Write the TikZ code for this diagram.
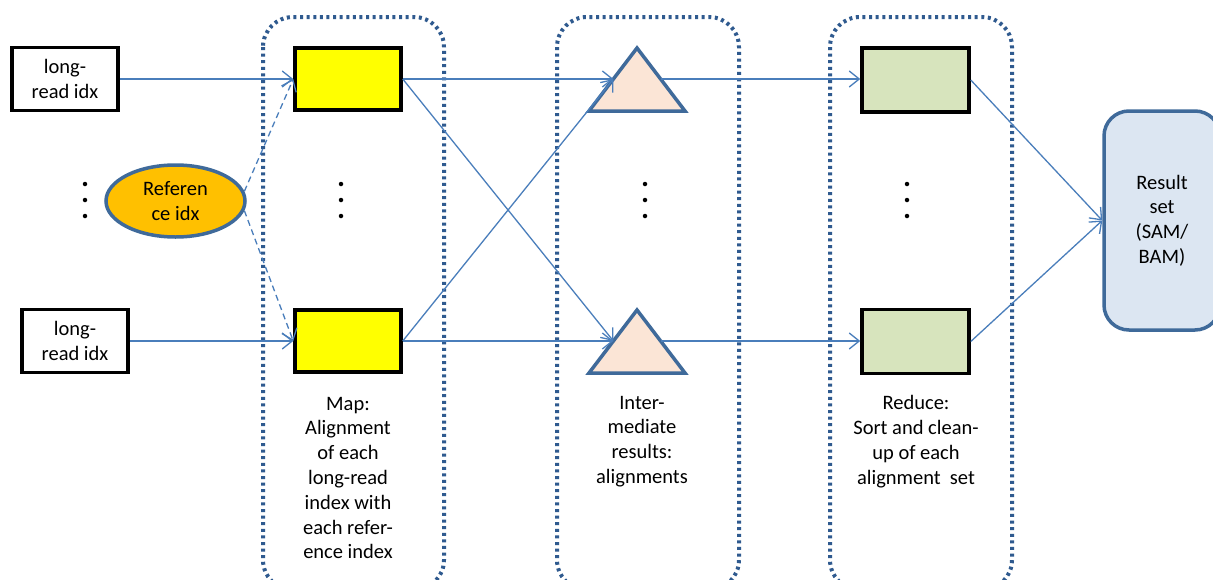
\documentclass[tikz,border=0pt]{standalone}
\usepackage{fontspec}
\setmainfont{Carlito}
\usetikzlibrary{arrows.meta,shapes.geometric}
\definecolor{conn}{HTML}{4A7EBB}
\definecolor{frame}{HTML}{2F5A8F}
\definecolor{edgeblue}{HTML}{3F6A9A}
\definecolor{ylw}{HTML}{FFFF00}
\definecolor{orng}{HTML}{FFC000}
\definecolor{peach}{HTML}{FBE5D6}
\definecolor{grn}{HTML}{D7E4BD}
\definecolor{lblue}{HTML}{DCE6F2}
\tikzset{
  inbox/.style={draw=black, line width=3.5pt, fill=white, minimum width=106pt, minimum height=63pt, inner sep=0pt, align=center},
  mapbox/.style={draw=black, line width=3.5pt, fill=ylw, minimum width=106pt, minimum height=62pt, inner sep=0pt},
  redbox/.style={draw=black, line width=3.5pt, fill=grn, minimum width=107pt, minimum height=64pt, inner sep=0pt},
  tri/.style={draw=edgeblue, line width=3.5pt, fill=peach, line join=miter},
  group/.style={draw=frame, line width=4pt, dash pattern=on 3pt off 3.6pt, rounded corners=30pt},
  conarrow/.style={draw=conn, line width=1.3pt, -{Straight Barb[length=10pt,width=16pt,line width=1.3pt]}},
  dashline/.style={dash pattern=on 6pt off 4pt},
  label/.style={align=center, inner sep=0pt},
  dotmark/.style={circle, fill=black, inner sep=0pt, minimum size=4.5pt}
}
\begin{document}
\begin{tikzpicture}[x=1pt,y=-1pt,font=\fontsize{20.5}{24.8}\selectfont]
\useasboundingbox (0,0) rectangle (1213,579);
\clip (0,0) rectangle (1213,579);
\fill[white] (0,0) rectangle (1213,579);

% group frames
\draw[group] (263,17) rectangle (444,590);
\draw[group] (557,17) rectangle (739,590);
\draw[group] (830,17) rectangle (1012,590);

% inputs
\node[inbox] (lr1) at (65,79) {long-\\read idx};
\node[inbox] (lr2) at (75,341) {long-\\read idx};
\node[ellipse, draw=edgeblue, line width=3.5pt, fill=orng, minimum width=139pt, minimum height=72pt, inner sep=0pt, align=center] (ref) at (175.5,201) {Referen\\ce idx};

% map
\node[mapbox] (m1) at (348,79) {};
\node[mapbox] (m2) at (348,341) {};

% intermediate triangles
\draw[tri] (637,48) -- (685,111) -- (589,111) -- cycle;
\draw[tri] (637,310) -- (685,373) -- (589,373) -- cycle;
\coordinate (t1w) at (613.4,79);
\coordinate (t1e) at (660.6,79);
\coordinate (t2w) at (613.4,341);
\coordinate (t2e) at (660.6,341);

% reduce
\node[redbox] (r1) at (915.5,80) {};
\node[redbox] (r2) at (915.5,341.5) {};

% result
\node[draw=edgeblue, line width=3.5pt, fill=lblue, rounded corners=25pt, minimum width=116pt, minimum height=219pt, align=center, inner sep=0pt] (res) at (1162,220.5) {Result\\[0pt]set\\(SAM/\\BAM)};

% dots
\foreach \x/\n in {85/a,341/b,645/c,907/d}{
  \node[dotmark] (\n1) at (\x,184) {};
  \node[dotmark] (\n2) at (\x,200) {};
  \node[dotmark] (\n3) at (\x,216) {};
}

% labels
\node[label] (lmap) at (348,478) {Map:\\Alignment\\of each\\long-read\\index with\\each refer-\\ence index};
\node[label] (lint) at (642,441.5) {Inter-\\mediate\\results:\\alignments};
\node[label] (lred) at (916,441.5) {Reduce:\\Sort and clean-\\up of each\\alignment\ \ set};

% connectors
\draw[conarrow] (lr1.east) -- (m1.west);
\draw[conarrow] (lr2.east) -- (m2.west);
\draw[conarrow, dashline] (ref.8) -- (m1.west);
\draw[conarrow, dashline] (ref.-8) -- (m2.west);
\draw[conarrow] (m1.east) -- (t1w);
\draw[conarrow] (m1.east) -- (t2w);
\draw[conarrow] (m2.east) -- (t1w);
\draw[conarrow] (m2.east) -- (t2w);
\draw[conarrow] (t1e) -- (r1.west |- t1e);
\draw[conarrow] (t2e) -- (r2.west |- t2e);
\draw[conarrow] (r1.east) -- (res.west);
\draw[conarrow] (r2.east) -- (res.west);
\end{tikzpicture}
\end{document}
